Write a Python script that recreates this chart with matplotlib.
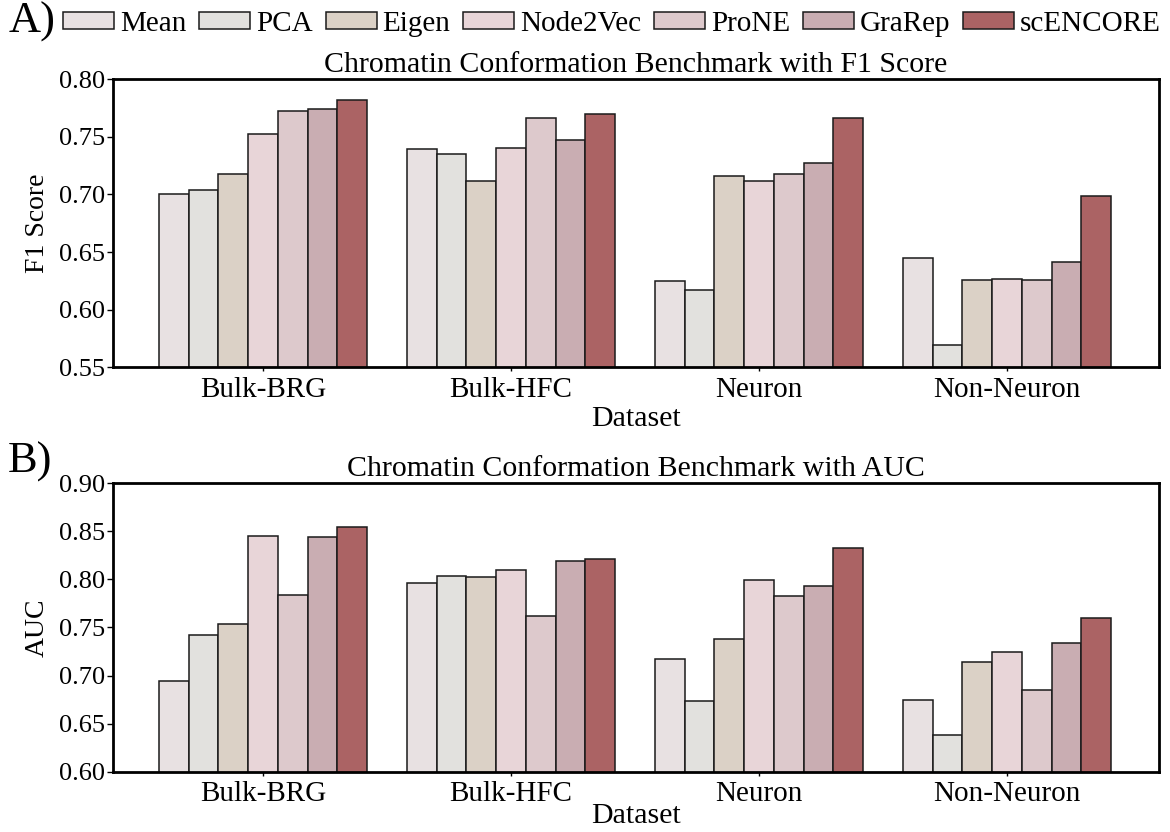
import matplotlib
matplotlib.use("Agg")
import matplotlib.pyplot as plt
import numpy as np

plt.rcParams['font.family'] = ['Liberation Serif', 'DejaVu Serif']

datasets = ["Bulk-BRG", "Bulk-HFC", "Neuron", "Non-Neuron"]
methods = ["Mean", "PCA", "Eigen", "Node2Vec", "ProNE", "GraRep", "scENCORE"]
colors = ["#E8E1E2", "#E2E1DE", "#DBD1C6", "#E8D5D8", "#DDC9CC", "#C9ADB2", "#AB6364"]

f1_scores = {
    "Mean":     [0.700, 0.739, 0.625, 0.645],
    "PCA":      [0.704, 0.735, 0.617, 0.569],
    "Eigen":    [0.718, 0.712, 0.716, 0.626],
    "Node2Vec": [0.752, 0.740, 0.712, 0.627],
    "ProNE":    [0.772, 0.766, 0.718, 0.626],
    "GraRep":   [0.774, 0.747, 0.727, 0.641],
    "scENCORE": [0.782, 0.770, 0.766, 0.699],
}
auc_scores = {
    "Mean":     [0.694, 0.796, 0.717, 0.675],
    "PCA":      [0.742, 0.804, 0.674, 0.638],
    "Eigen":    [0.754, 0.803, 0.738, 0.714],
    "Node2Vec": [0.845, 0.810, 0.799, 0.725],
    "ProNE":    [0.784, 0.762, 0.783, 0.685],
    "GraRep":   [0.844, 0.819, 0.793, 0.734],
    "scENCORE": [0.855, 0.821, 0.833, 0.760],
}
f1_ticks = [0.55, 0.60, 0.65, 0.70, 0.75, 0.80]
auc_ticks = [0.60, 0.65, 0.70, 0.75, 0.80, 0.85, 0.90]

fig = plt.figure(figsize=(11.7, 8.32), dpi=100)
ax1 = fig.add_axes([0.0966, 0.5585, 0.8940, 0.3465])
ax2 = fig.add_axes([0.0966, 0.0725, 0.8940, 0.3466])

x = np.arange(len(datasets))
w = 0.12

def draw(ax, data, ticks, title, ylabel, xpad):
    handles = []
    for i, m in enumerate(methods):
        off = (i - 3) * w
        b = ax.bar(x + off, data[m], width=w, color=colors[i], edgecolor="#1a1a1a",
                   linewidth=1.1, label=m, zorder=2)
        handles.append(b)
    ax.set_xlim(-0.605, 3.613)
    ax.set_ylim(ticks[0], ticks[-1])
    ax.set_yticks(ticks)
    ax.set_yticklabels([f"{t:.2f}" for t in ticks])
    ax.set_xticks(x)
    ax.set_xticklabels(datasets)
    ax.tick_params(axis='y', labelsize=19, width=1.0, length=4, direction='out', pad=2)
    ax.tick_params(axis='x', labelsize=21, width=1.0, length=3, direction='out', pad=4)
    for s in ax.spines.values():
        s.set_linewidth(2.0)
        s.set_color("black")
    ax.set_title(title, fontsize=21.5, pad=5)
    ax.set_xlabel("Dataset", fontsize=21.5, labelpad=xpad)
    ax.set_ylabel(ylabel, fontsize=20, labelpad=6)
    return handles

h = draw(ax1, f1_scores, f1_ticks, "Chromatin Conformation Benchmark with F1 Score", "F1 Score", 2)
draw(ax2, auc_scores, auc_ticks, "Chromatin Conformation Benchmark with AUC", "AUC", -3)

fig.legend(h, methods, loc='upper left', bbox_to_anchor=(0.039, 1.008), ncol=7, frameon=False,
           fontsize=21, handlelength=1.75, handleheight=0.5, handletextpad=0.2,
           columnspacing=0.44, borderaxespad=0.2)

fig.text(0.007, 0.974, "A)", fontsize=32, va='center', ha='left')
fig.text(0.007, 0.445, "B)", fontsize=32, va='center', ha='left')

fig.savefig("out.png", dpi=100)
